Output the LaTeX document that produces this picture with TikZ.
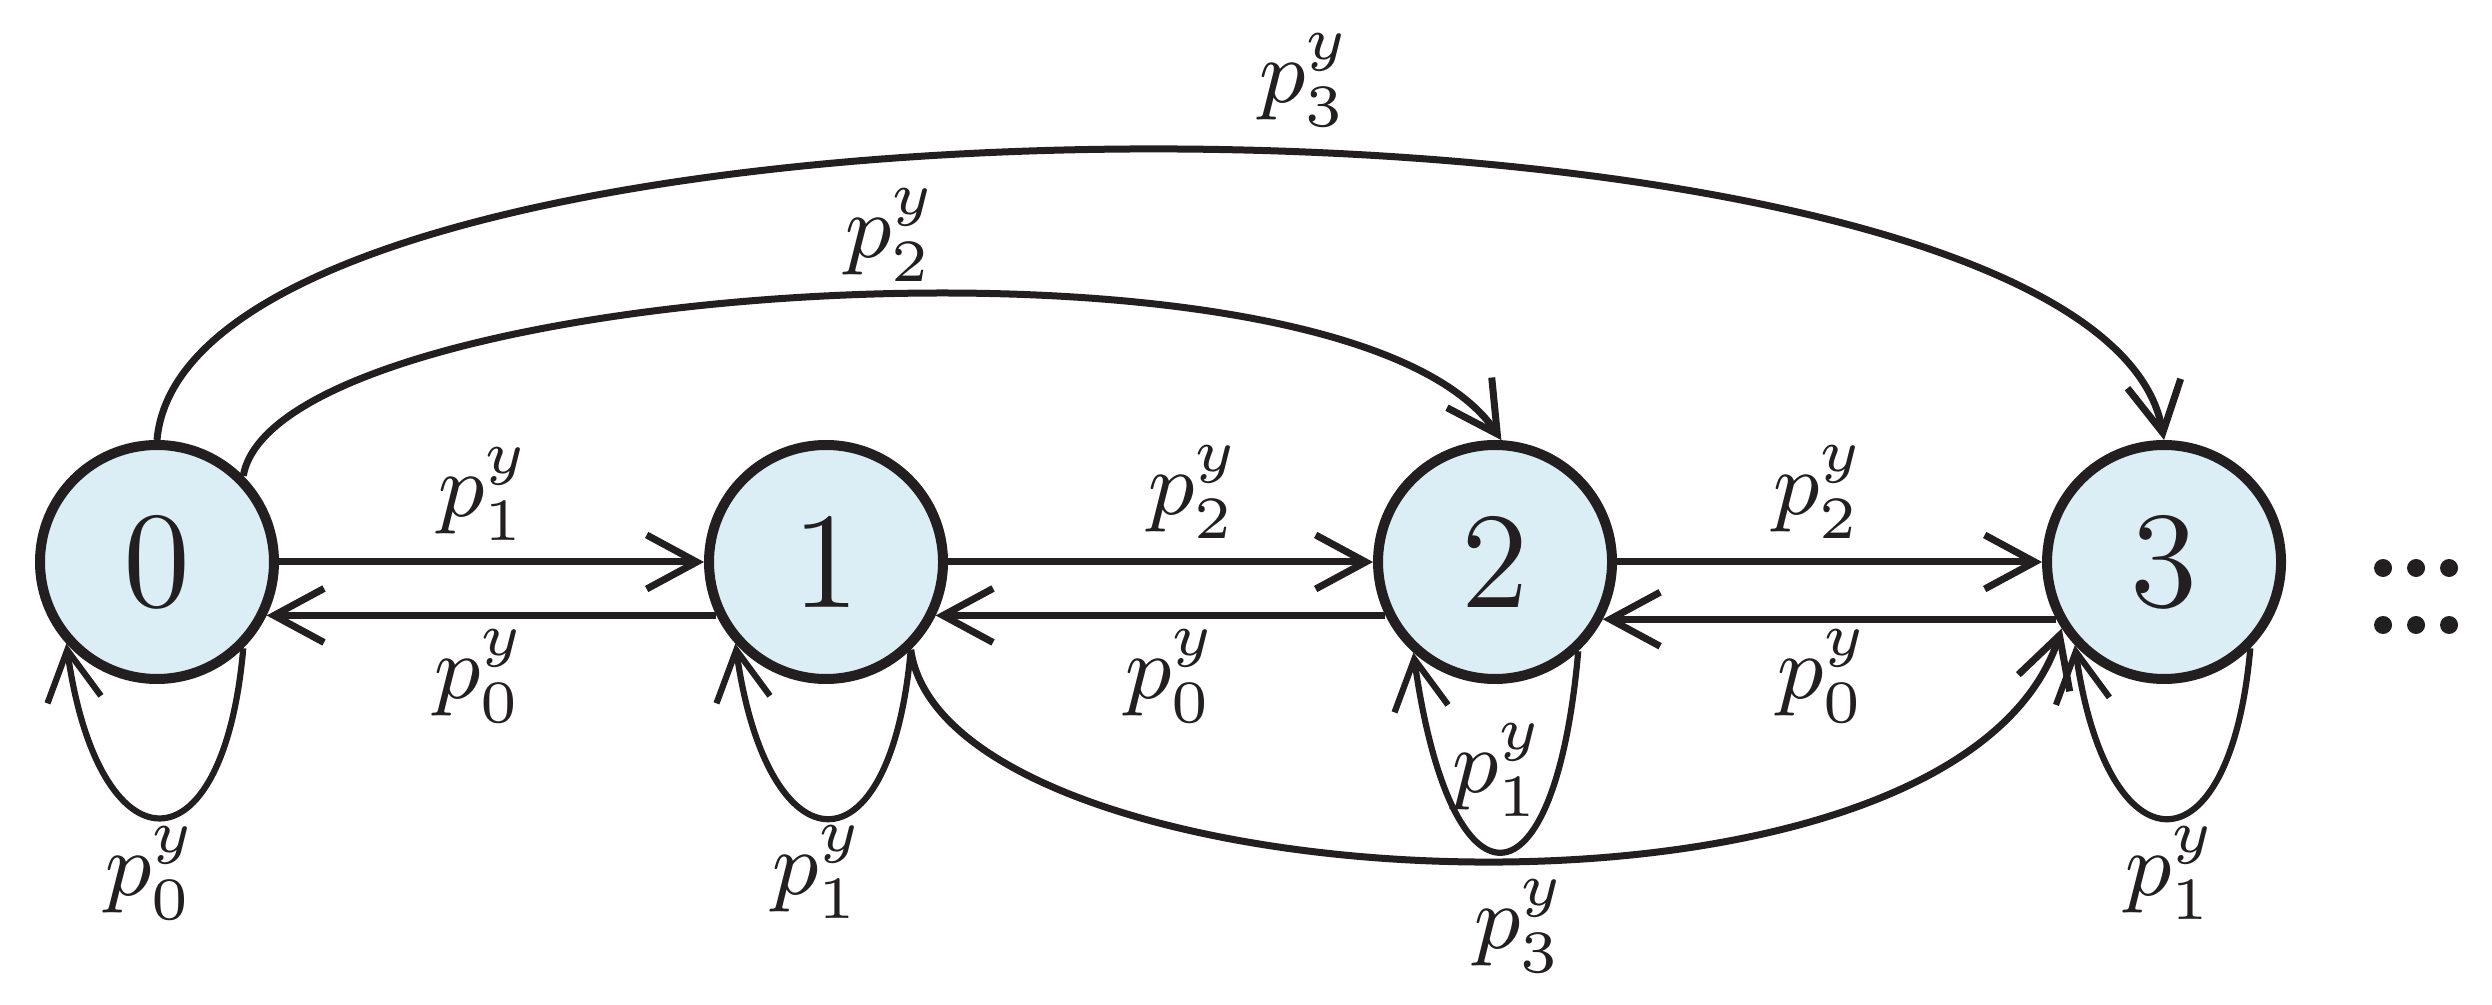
\documentclass[tikz,border=0pt]{standalone}
\usetikzlibrary{arrows.meta}
\definecolor{ink}{RGB}{35,31,32}
\definecolor{nodefill}{RGB}{219,237,245}
\begin{document}
\begin{tikzpicture}[x=0.1pt,y=0.1pt,
  state/.style={circle,draw=ink,fill=nodefill,line width=1pt,minimum size=23.4pt,inner sep=0pt,
    font=\fontsize{13.7}{16}\selectfont,text=ink},
  edge/.style={draw=ink,line width=0.7pt,-{Straight Barb[length=5pt,width=5.4pt]}},
  loopedge/.style={edge,line width=0.62pt},
  lab/.style={inner sep=0pt,font=\fontsize{8.6}{10}\selectfont,text=ink}]
\useasboundingbox (0,0) rectangle (2492,1004);
\node[state] (n0) at (157,442) {0};
\node[state] (n1) at (826,442) {1};
\node[state] (n2) at (1495,442) {2};
\node[state] (n3) at (2164,442) {3};
% straight edges
\draw[edge] (n0.0) -- (n1.180);
\draw[edge] (n1.206) -- (n0.-26);
\draw[edge] (n1.0) -- (n2.180);
\draw[edge] (n2.206) -- (n1.-26);
\draw[edge] (n2.0) -- (n3.180);
\draw[edge] (n3.208) -- (n2.-28);
% loops
\draw[loopedge] (n0.-45) .. controls +(-95:230) and +(-82:230) .. (n0.-138);
\draw[loopedge] (n1.-46) .. controls +(-95:230) and +(-82:230) .. (n1.-138);
\draw[loopedge] (n2.-47) .. controls +(-95:268) and +(-82:268) .. (n2.-132);
\draw[loopedge] (n3.-45) .. controls +(-95:230) and +(-82:230) .. (n3.-137);
% long arcs
\draw[edge] (n0.90) .. controls +(85:390) and +(100:390) .. (n3.90);
\draw[edge] (n0.45) .. controls +(80:200) and +(124:280) .. (n2.87);
\draw[edge] (n1.-46) .. controls +(-82:260) and +(-108:350) .. (n3.-147);
% labels
\node[lab] (l01) at (484,510) {$p_1^y$};
\node[lab] (l10) at (480,328) {$p_0^y$};
\node[lab] (l12) at (1194,512) {$p_2^y$};
\node[lab] (l21) at (1171,328) {$p_0^y$};
\node[lab] (l23) at (1819,512) {$p_2^y$};
\node[lab] (l32) at (1823,328) {$p_0^y$};
\node[lab] (ll0) at (151,131) {$p_0^y$};
\node[lab] (ll1) at (818,132) {$p_1^y$};
\node[lab] (ll2) at (1498,234) {$p_1^y$};
\node[lab] (ll3) at (2171,131) {$p_1^y$};
\node[lab] (l02) at (891,769) {$p_2^y$};
\node[lab] (l03) at (1305,924) {$p_3^y$};
\node[lab] (l13) at (1520,78) {$p_3^y$};
% continuation dots
\foreach \x in {2383,2416,2449}{
  \fill[ink] (\x,436) circle (9);
  \fill[ink] (\x,379) circle (9);
}
\end{tikzpicture}
\end{document}
